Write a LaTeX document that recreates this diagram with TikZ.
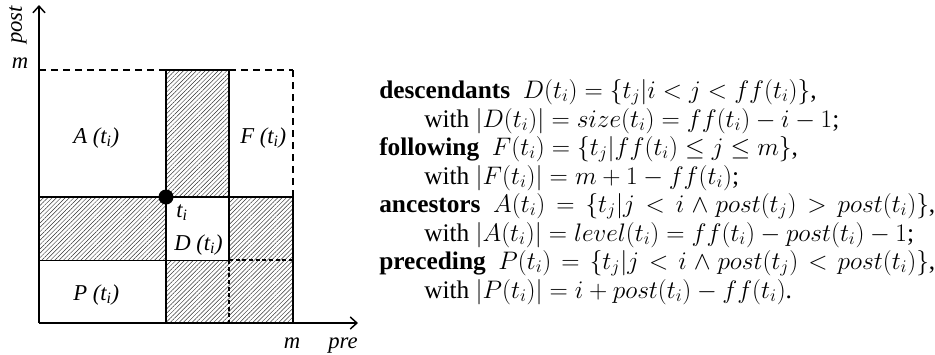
\RequirePackage{fix-cm}
\documentclass[tikz,border=0pt]{standalone}
\usepackage{fontspec}
\setmainfont{Liberation Serif}
\usetikzlibrary{patterns.meta,arrows.meta}
\tikzset{
  solidline/.style={line width=1.1pt},
  thinline/.style={line width=0.75pt},
  bigdash/.style={line width=1.1pt, dash pattern=on 5.25pt off 3.75pt},
  smalldash/.style={line width=0.9pt, dash pattern=on 3pt off 2pt},
  hatch/.style={pattern={Lines[angle=45,distance=2.3pt,line width=0.35pt]}, pattern color=black!80},
  axis/.style={line width=1.1pt, -{Straight Barb[length=5pt,width=9pt,line width=1.1pt]}},
  lbl/.style={font=\fontsize{17}{20}\selectfont\itshape, inner sep=0pt},
  txt/.style={font=\fontsize{19}{22.8}\selectfont, anchor=base west, inner sep=0pt},
}
\begin{document}
\begin{tikzpicture}[x=0.75pt,y=-0.75pt]
\path[use as bounding box] (0,0) rectangle (935,354);
% grid coordinates
\coordinate (O) at (39,323);
\coordinate (ytop) at (39,5);
\coordinate (xend) at (358,323);
% hatched regions
\fill[hatch] (166,70) rectangle (229,197);
\fill[hatch] (39,197) rectangle (166,260);
\fill[hatch] (229,197) rectangle (293,323);
\fill[hatch] (166,260) rectangle (229,323);
% top border
\draw[bigdash] (39,70) -- (166,70);
\draw[solidline] (166,70) -- (229,70);
\draw[bigdash] (229,70) -- (293,70);
% right border
\draw[bigdash] (293,70) -- (293,197);
\draw[solidline] (293,197) -- (293,323);
% inner lines
\draw[solidline] (166,70) -- (166,323);
\draw[solidline] (229,70) -- (229,260);
\draw[smalldash] (229,260) -- (229,323);
\draw[solidline] (39,197) -- (293,197);
\draw[thinline] (39,260) -- (229,260);
\draw[smalldash] (229,260) -- (293,260);
% axes
\draw[axis] (O) -- (ytop);
\draw[axis] (O) -- (xend);
% point t_i
\fill (166,197) circle[radius=7.5];
% labels
\node[lbl, rotate=90] (post) at (18,25) {post};
\node[lbl, anchor=base] (my) at (20,68) {m};
\node[lbl, anchor=base] (mx) at (292,348) {m};
\node[lbl, anchor=base] (pre) at (343,348) {pre};
\node[lbl, anchor=base west] (A) at (73,143) {A (t\textsubscript{i})};
\node[lbl, anchor=base west] (F) at (240,143) {F (t\textsubscript{i})};
\node[lbl, anchor=base west] (ti) at (176,217) {t\textsubscript{i}};
\node[lbl, anchor=base west] (D) at (174,250) {D (t\textsubscript{i})};
\node[lbl, anchor=base west] (P) at (73,300) {P (t\textsubscript{i})};
% text
\node[txt] (l1) at (379,98) {\textbf{descendants}\enspace$D(t_i)=\{t_j|i<j<ff(t_i)\}$,};
\node[txt] (l2) at (424,127) {with $|D(t_i)|=size(t_i)=ff(t_i)-i-1$;};
\node[txt] (l3) at (379,155) {\textbf{following}\enspace$F(t_i)=\{t_j|ff(t_i)\le j\le m\}$,};
\node[txt] (l4) at (424,184) {with $|F(t_i)|=m+1-ff(t_i)$;};
\node[txt] (l5) at (379,212) {\makebox[417pt][s]{\textbf{ancestors}\enspace$A(t_i)=\{t_j|j<i\wedge post(t_j)>post(t_i)\}$,}};
\node[txt] (l6) at (424,241) {with $|A(t_i)|=level(t_i)=ff(t_i)-post(t_i)-1$;};
\node[txt] (l7) at (379,269) {\makebox[417pt][s]{\textbf{preceding}\enspace$P(t_i)=\{t_j|j<i\wedge post(t_j)<post(t_i)\}$,}};
\node[txt] (l8) at (424,298) {with $|P(t_i)|=i+post(t_i)-ff(t_i)$.};
\end{tikzpicture}
\end{document}
